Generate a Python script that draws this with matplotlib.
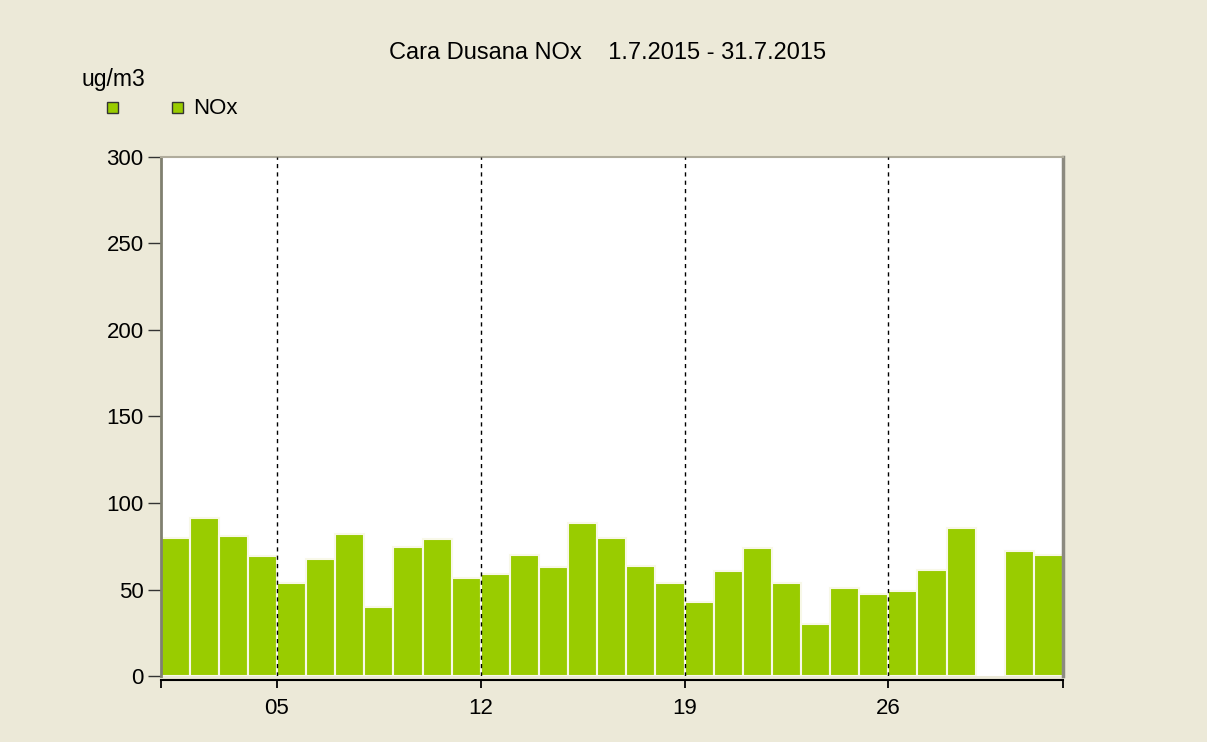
import matplotlib
matplotlib.use("Agg")
import matplotlib.pyplot as plt
from matplotlib.patches import Rectangle

plt.rcParams['font.family'] = ['Liberation Sans', 'DejaVu Sans']

days = list(range(1, 32))
nox = [80.0, 91.5, 80.8, 69.2, 53.7, 67.6, 82.3, 39.9, 74.6, 79.2,
       56.8, 59.1, 69.9, 63.0, 88.4, 80.0, 63.7, 53.7, 42.8, 60.6,
       73.8, 53.7, 29.8, 50.6, 47.5, 49.0, 61.4, 85.3, None, 72.3, 69.9]
x_tick_pos = [5, 12, 19, 26]
x_tick_labels = ["05", "12", "19", "26"]
y_ticks = [0, 50, 100, 150, 200, 250, 300]

bg = '#ECE9D8'
bar_color = '#99CC00'
W, H = 1207, 742

fig = plt.figure(figsize=(W/100, H/100), dpi=100, facecolor=bg)
ax = fig.add_axes([160.5/W, 1-676/H, (1063-160.5)/W, (676-157)/H])
ax.set_facecolor('white')

xs = [d for d, v in zip(days, nox) if v is not None]
vs = [v for v in nox if v is not None]
ax.bar(xs, vs, width=1.0, align='edge', color=bar_color,
       edgecolor='#F8F8E8', linewidth=1.5, zorder=2)

for p in x_tick_pos:
    ax.axvline(p, color='black', linestyle=(0, (3, 3)), linewidth=1.0, zorder=3)

ax.set_xlim(1, 32)
ax.set_ylim(0, 300)
ax.set_yticks(y_ticks)
ax.set_yticklabels([str(t) for t in y_ticks])
ax.set_xticks([1] + x_tick_pos + [32])
ax.set_xticklabels([""] + x_tick_labels + [""])
ax.tick_params(axis='y', direction='out', length=9.5, width=1, color='#333333',
               pad=2.6, labelsize=16)
ax.tick_params(axis='x', direction='out', length=6, width=1.3, color='black',
               pad=7, labelsize=16)

ax.spines['left'].set_color('#808070')
ax.spines['left'].set_linewidth(2)
ax.spines['top'].set_color('#B0AC9C')
ax.spines['top'].set_linewidth(1.5)
ax.spines['right'].set_color('#8C8A80')
ax.spines['right'].set_linewidth(2.5)
ax.spines['bottom'].set_position(('outward', 3))
ax.spines['bottom'].set_color('black')
ax.spines['bottom'].set_linewidth(1.5)

fig.text(608/W, 1-59/H, "Cara Dusana NOx    1.7.2015 - 31.7.2015",
         ha='center', va='baseline', fontsize=17)
fig.text(81/W, 1-86/H, "ug/m3", ha='left', va='baseline', fontsize=16.5)

for sx in [112, 178]:
    fig.patches.append(Rectangle(((sx-5.5)/W, 1-112.5/H), 11/W, 11/H,
                                 transform=fig.transFigure, facecolor=bar_color,
                                 edgecolor='#333333', linewidth=1))
fig.text(193/W, 1-114/H, "NOx", ha='left', va='baseline', fontsize=16)

fig.savefig("out.png", dpi=100, facecolor=bg)
